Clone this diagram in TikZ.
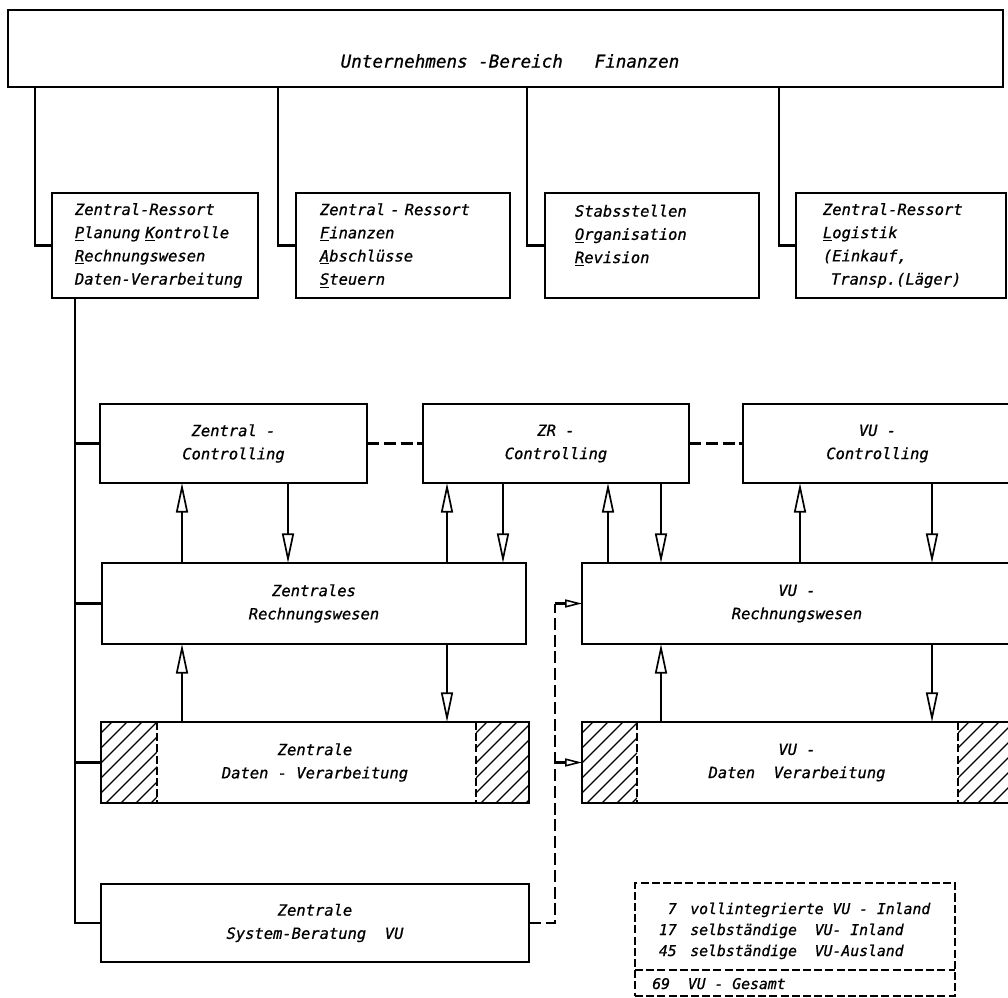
\documentclass[tikz,border=0pt]{standalone}
\usepackage{fontspec}
\setmainfont{DejaVu Sans Mono}
\newfontfamily\lettering[FakeBold=0.8]{DejaVu Sans Mono}
\usetikzlibrary{arrows.meta}
\newcommand\hatchzone[4]{%
  \begin{scope}
    \clip (#1,#2) rectangle (#3,#4);
    \foreach \k in {0,...,14}{\draw[line width=0.9pt] ({#1-85+\k*15},#4) -- ++(85,-85);}
  \end{scope}}
\begin{document}
\begin{tikzpicture}[x=0.025cm,y=-0.025cm,
  every node/.style={font=\lettering\itshape\fontsize{11}{16.5}\selectfont},
  box/.style={draw, line width=1.7pt, inner sep=0pt, outer sep=0pt, anchor=north west},
  sized/.style 2 args={minimum width=#1*0.025cm, minimum height=#2*0.025cm},
  link/.style={line width=1.5pt},
  dlink/.style={line width=1.5pt, dash pattern=on 0.3cm off 0.12cm},
  thindash/.style={line width=1.1pt, dash pattern=on 0.2cm off 0.08cm},
  bigtip/.style={-{Triangle[open, length=0.74cm, width=0.3cm, line width=1.2pt]}},
  smalltip/.style={-{Triangle[open, length=0.42cm, width=0.2cm, line width=1.1pt]}},
  legtext/.style={inner sep=0pt, font=\lettering\itshape\fontsize{10.5}{14}\selectfont},
]
\path[use as bounding box] (0,0) rectangle (1008,998);
\clip (0,0) rectangle (1008,998);

% top
\node[box, sized={995}{77}] (top) at (8,10) {};
\node[font=\lettering\itshape\fontsize{12.5}{14}\selectfont] (title) at (510,61) {Unternehmens -Bereich\ \ \ Finanzen};

% level 2
\node[box, sized={206}{105}, align=left, text width=4.0cm] (b1) at (52,193)
  {Zentral-Ressort\\\underline{P}lanung \underline{K}ontrolle\\\underline{R}echnungswesen\\\mbox{Daten-Verarbeitung}};
\node[box, sized={214}{105}, align=left, text width=4.15cm] (b2) at (296,193)
  {\mbox{Zentral - Ressort}\\\underline{F}inanzen\\\underline{A}bschlüsse\\\underline{S}teuern};
\node[box, sized={214}{105}, align=left, text width=3.85cm] (b3) at (545,193)
  {Stabsstellen\\\underline{O}rganisation\\\underline{R}evision\\\mbox{}};
\node[box, sized={210}{105}, align=left, text width=3.9cm] (b4) at (796,193)
  {\mbox{Zentral-Ressort}\\\underline{L}ogistik\\(Einkauf,\\\hspace*{0.2cm}\mbox{Transp.(Läger)}};

\draw[link] (35,0 |- top.south) |- (b1.west);
\draw[link] (278,0 |- top.south) |- (b2.west);
\draw[link] (527,0 |- top.south) |- (b3.west);
\draw[link] (779,0 |- top.south) |- (b4.west);

% level 3
\node[box, sized={267}{79}, align=center] (zc) at (100,404) {Zentral -\\Controlling};
\node[box, sized={266}{79}, align=center] (zr) at (423,404) {ZR -\\Controlling};
\node[box, sized={269}{79}, align=center] (vuc) at (743,404) {VU -\\Controlling};
\node[box, sized={424}{81}, align=center] (zrw) at (102,563) {Zentrales\\Rechnungswesen};
\node[box, sized={430}{81}, align=center] (vurw) at (582,563) {VU -\\Rechnungswesen};
\node[box, sized={428}{81}, align=center] (zdv) at (101,722) {Zentrale\\Daten - Verarbeitung};
\node[box, sized={430}{81}, align=center] (vudv) at (582,722) {VU -\\Daten\ \ Verarbeitung};
\node[box, sized={428}{78}, align=center] (sys) at (101,884) {Zentrale\\System-Beratung\ \ VU};

% hatching
\hatchzone{101}{722}{157}{803}
\hatchzone{476}{722}{529}{803}
\hatchzone{582}{722}{637}{803}
\hatchzone{958}{722}{1012}{803}
\draw[thindash] (157,0 |- zdv.north) -- (157,0 |- zdv.south);
\draw[thindash] (476,0 |- zdv.north) -- (476,0 |- zdv.south);
\draw[thindash] (637,0 |- vudv.north) -- (637,0 |- vudv.south);
\draw[thindash] (958,0 |- vudv.north) -- (958,0 |- vudv.south);

% main vertical line
\draw[link] (75,0 |- b1.south) |- (sys.west);
\draw[link] (75,0 |- zc.west) -- (zc.west);
\draw[link] (75,0 |- zrw.west) -- (zrw.west);
\draw[link] (75,0 |- zdv.west) -- (zdv.west);

% dashed links between controlling boxes
\draw[dlink] (zc.east) -- (zr.west);
\draw[dlink] (zr.east) -- (vuc.west);

% arrows
\draw[link,bigtip] (182,0 |- zrw.north) -- (182,0 |- zc.south);
\draw[link,bigtip] (288,0 |- zc.south) -- (288,0 |- zrw.north);
\draw[link,bigtip] (447,0 |- zrw.north) -- (447,0 |- zr.south);
\draw[link,bigtip] (503,0 |- zr.south) -- (503,0 |- zrw.north);
\draw[link,bigtip] (608,0 |- vurw.north) -- (608,0 |- zr.south);
\draw[link,bigtip] (661,0 |- zr.south) -- (661,0 |- vurw.north);
\draw[link,bigtip] (800,0 |- vurw.north) -- (800,0 |- vuc.south);
\draw[link,bigtip] (932,0 |- vuc.south) -- (932,0 |- vurw.north);
\draw[link,bigtip] (182,0 |- zdv.north) -- (182,0 |- zrw.south);
\draw[link,bigtip] (447,0 |- zrw.south) -- (447,0 |- zdv.north);
\draw[link,bigtip] (661,0 |- vudv.north) -- (661,0 |- vurw.south);
\draw[link,bigtip] (932,0 |- vurw.south) -- (932,0 |- vudv.north);

% dashed system-beratung connector
\coordinate (dtop) at (555,0 |- vurw.west);
\coordinate (dmid) at (555,0 |- vudv.west);
\draw[dlink] (sys.east) -| (dtop);
\draw[link,smalltip] (dtop) -- (vurw.west);
\draw[link,smalltip] (dmid) -- (vudv.west);

% legend
\node[box, thindash, sized={320}{113}] (legend) at (635,883) {};
\draw[thindash] (legend.west |- 0,970) -- (legend.east |- 0,970);
\node[legtext, anchor=base east] (n1) at (677,914) {7};
\node[legtext, anchor=base west] (t1) at (690,914) {vollintegrierte VU - Inland};
\node[legtext, anchor=base east] (n2) at (677,935) {17};
\node[legtext, anchor=base west] (t2) at (690,935) {selbständige\ \ VU- Inland};
\node[legtext, anchor=base east] (n3) at (677,956) {45};
\node[legtext, anchor=base west] (t3) at (690,956) {selbständige\ \ VU-Ausland};
\node[legtext, anchor=base west] (n4) at (652,989) {69\ \ VU - Gesamt};
\end{tikzpicture}
\end{document}
